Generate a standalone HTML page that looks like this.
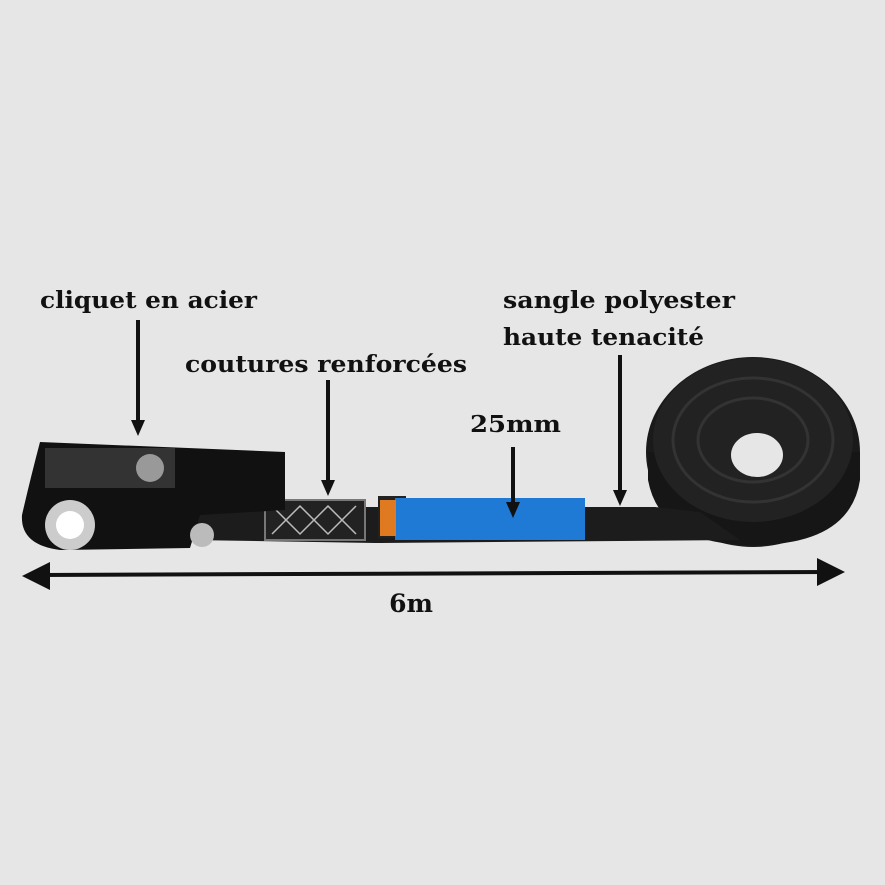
<!DOCTYPE html>
<html><head><meta charset="utf-8"><style>
html,body{margin:0;padding:0;background:#e6e6e6;}
svg{display:block}
text{font-family:"DejaVu Serif","Liberation Serif",serif;font-weight:bold;fill:#111;}
</style></head><body>
<svg width="885" height="885" viewBox="0 0 885 885">
<rect width="885" height="885" fill="#e6e6e6"/>
<defs>
<marker id="ah" markerWidth="16" markerHeight="16" refX="8" refY="8" orient="auto" markerUnits="userSpaceOnUse">
<path d="M0,1 L16,8 L0,15 z" fill="#111"/></marker>
</defs>
<!-- roll -->
<ellipse cx="753" cy="452" rx="107" ry="95" fill="#1a1a1a"/>
<path d="M648,452 L648,480 Q660,545 753,545 Q850,545 860,480 L860,452 Z" fill="#161616"/>
<ellipse cx="753" cy="440" rx="100" ry="82" fill="#222"/>
<ellipse cx="753" cy="440" rx="80" ry="62" fill="none" stroke="#333" stroke-width="3"/>
<ellipse cx="753" cy="440" rx="55" ry="42" fill="none" stroke="#333" stroke-width="3"/>
<ellipse cx="757" cy="455" rx="26" ry="22" fill="#e6e6e6"/>
<!-- strap -->
<path d="M190,507 L655,507 L700,512 L740,540 L375,543 L190,540 Z" fill="#1c1c1c"/>
<rect x="265" y="500" width="100" height="40" fill="#222" stroke="#777" stroke-width="2"/>
<path d="M272,506 L300,534 L328,506 L356,534 M272,534 L300,506 L328,534 L356,506" stroke="#bbb" stroke-width="1.5" fill="none"/>
<rect x="378" y="496" width="28" height="42" fill="#222"/>
<rect x="395" y="498" width="190" height="42" fill="#1f7ad6"/>
<rect x="380" y="500" width="16" height="36" fill="#e07a20"/>
<!-- ratchet -->
<path d="M40,442 L285,452 L285,510 L200,515 L190,548 L60,550 Q20,545 22,515 Q30,480 40,442 Z" fill="#111"/>
<rect x="45" y="448" width="130" height="40" fill="#333"/>
<circle cx="70" cy="525" r="25" fill="#ccc"/>
<circle cx="70" cy="525" r="14" fill="#fff"/>
<circle cx="202" cy="535" r="12" fill="#bbb"/>
<circle cx="150" cy="468" r="14" fill="#999"/>
<!-- labels -->
<text x="40" y="308" font-size="23" textLength="217" lengthAdjust="spacingAndGlyphs">cliquet en acier</text>
<text x="185" y="372" font-size="23" textLength="282" lengthAdjust="spacingAndGlyphs">coutures renforcées</text>
<text x="470" y="432" font-size="23" textLength="91" lengthAdjust="spacingAndGlyphs">25mm</text>
<text x="503" y="308" font-size="23" textLength="232" lengthAdjust="spacingAndGlyphs">sangle polyester</text>
<text x="503" y="345" font-size="23" textLength="201" lengthAdjust="spacingAndGlyphs">haute tenacité</text>
<text x="411" y="612" font-size="25" text-anchor="middle">6m</text>
<g stroke="#111" stroke-width="4">
<line x1="138" y1="320" x2="138" y2="428" marker-end="url(#ah)"/>
<line x1="328" y1="380" x2="328" y2="488" marker-end="url(#ah)"/>
<line x1="513" y1="447" x2="513" y2="510" marker-end="url(#ah)"/>
<line x1="620" y1="355" x2="620" y2="498" marker-end="url(#ah)"/>
<line x1="40" y1="575" x2="828" y2="572"/>
</g>
<path d="M22,576 L50,562 L50,590 Z" fill="#111"/>
<path d="M845,572 L817,558 L817,586 Z" fill="#111"/>
</svg>
</body></html>
